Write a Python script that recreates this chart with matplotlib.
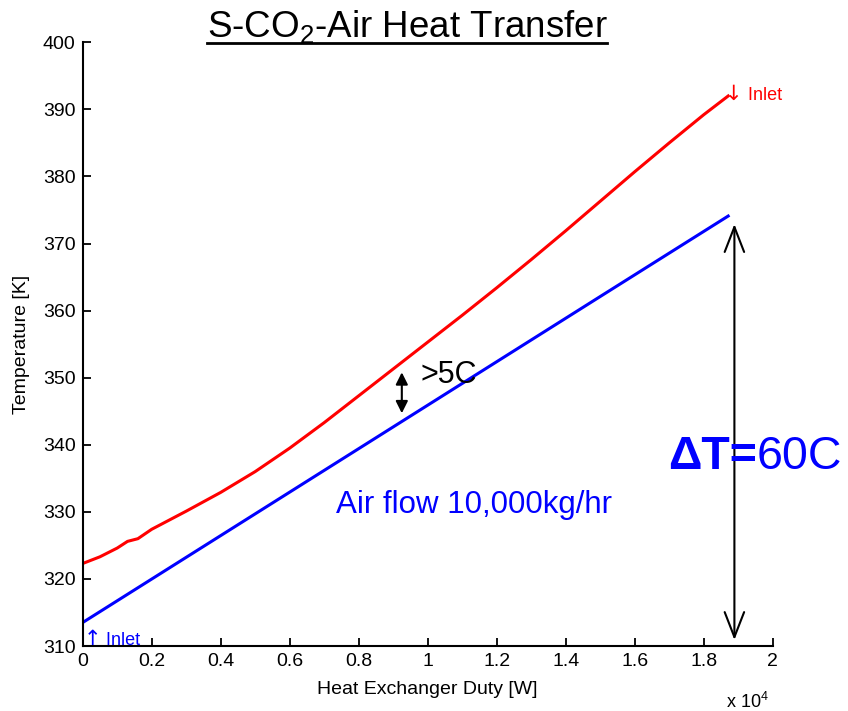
import matplotlib
matplotlib.use("Agg")
import matplotlib.pyplot as plt
from matplotlib.ticker import FuncFormatter
from matplotlib.lines import Line2D

plt.rcParams['font.family'] = ['Liberation Sans', 'DejaVu Sans']
plt.rcParams['mathtext.fontset'] = 'custom'
plt.rcParams['mathtext.rm'] = 'Liberation Sans'
plt.rcParams['mathtext.it'] = 'Liberation Sans:italic'
plt.rcParams['mathtext.bf'] = 'Liberation Sans:bold'

# Data (x in units of 1e4 W)
co2_duty = [0.0, 0.05, 0.1, 0.13, 0.16, 0.2, 0.3, 0.4, 0.5, 0.6, 0.7, 0.8, 0.9,
            1.0, 1.1, 1.2, 1.3, 1.4, 1.5, 1.6, 1.7, 1.8, 1.871]
co2_temp = [322.3, 323.3, 324.6, 325.6, 326.0, 327.4, 330.1, 332.9, 336.0, 339.5,
            343.3, 347.3, 351.3, 355.3, 359.3, 363.4, 367.6, 371.9, 376.3, 380.7,
            385.0, 389.2, 392.0]
air_duty = [0.0, 0.5, 1.0, 1.5, 1.871]
air_temp = [313.5, 329.7, 345.9, 362.1, 374.1]

x_ticks = [0, 0.2, 0.4, 0.6, 0.8, 1.0, 1.2, 1.4, 1.6, 1.8, 2.0]
y_ticks = [310, 320, 330, 340, 350, 360, 370, 380, 390, 400]

fig = plt.figure(figsize=(8.48, 7.11), dpi=100)
ax = fig.add_axes([0.0975, 0.0914, 0.8137, 0.8491])

ax.plot(co2_duty, co2_temp, color='#ff0000', lw=2.2)
ax.plot(air_duty, air_temp, color='#0000ff', lw=2.2)

ax.set_xlim(0, 2)
ax.set_ylim(310, 400)
ax.set_xticks(x_ticks)
ax.set_yticks(y_ticks)
ax.xaxis.set_major_formatter(FuncFormatter(lambda v, p: '%g' % v))
ax.tick_params(direction='in', length=6, width=1.3, labelsize=14, pad=5)
for s in ['top', 'right']:
    ax.spines[s].set_visible(False)
for s in ['left', 'bottom']:
    ax.spines[s].set_linewidth(1.5)

ax.set_xlabel('Heat Exchanger Duty [W]', fontsize=14, labelpad=8)
ax.set_ylabel('Temperature [K]', fontsize=14, labelpad=9)

fig.text(726 / 848, 3 / 711, r'x 10$^4$', fontsize=13, va='baseline', ha='left')

# Title with underline
title = fig.text(407 / 848, 1 - 37 / 711, r'S-CO$_2$-Air Heat Transfer', fontsize=26.5,
                 ha='center', va='baseline')
fig.canvas.draw()
r = fig.canvas.get_renderer()
bb = title.get_window_extent(renderer=r).transformed(fig.transFigure.inverted())
fig.add_artist(Line2D([bb.x0, bb.x1], [1 - 42.5 / 711] * 2, transform=fig.transFigure,
                      color='black', lw=2))

# Inlet labels
a1 = ax.text(0.003, 310.2, '\u2191', color='#0000ff', fontsize=15, ha='left', va='baseline',
             family=['DejaVu Sans'])
ax.annotate(' Inlet', xy=(1, 0), xycoords=a1, color='#0000ff', fontsize=13,
            ha='left', va='bottom')
a2 = ax.text(1.862, 391.4, '\u2193', color='#ff0000', fontsize=15, ha='left', va='baseline',
             family=['DejaVu Sans'])
ax.annotate(' Inlet', xy=(1, 0), xycoords=a2, color='#ff0000', fontsize=13,
            ha='left', va='bottom')

ax.annotate('', xy=(0.925, 350.8), xytext=(0.925, 344.7),
            arrowprops=dict(arrowstyle='<|-|>', color='black', lw=1.5,
                            mutation_scale=18, shrinkA=0, shrinkB=0))
ax.text(0.978, 349.2, '>5C', fontsize=22, ha='left', va='baseline', color='black')

ax.annotate('', xy=(1.889, 372.9), xytext=(1.889, 310.9),
            arrowprops=dict(arrowstyle='<->,head_length=0.9,head_width=0.35', color='black',
                            lw=1.5, mutation_scale=20, shrinkA=0, shrinkB=0))

ax.text(0.734, 329.8, 'Air flow 10,000kg/hr', fontsize=22.5, color='#0000ff',
        ha='left', va='baseline')

t1 = ax.text(1.697, 336.4, '\u0394T=', fontsize=33.5, fontweight='bold', color='#0000ff',
             ha='left', va='baseline')
ax.annotate('60C', xy=(1, 0), xycoords=t1, fontsize=33.5, color='#0000ff',
            ha='left', va='bottom')

fig.savefig('out.png', dpi=100)
